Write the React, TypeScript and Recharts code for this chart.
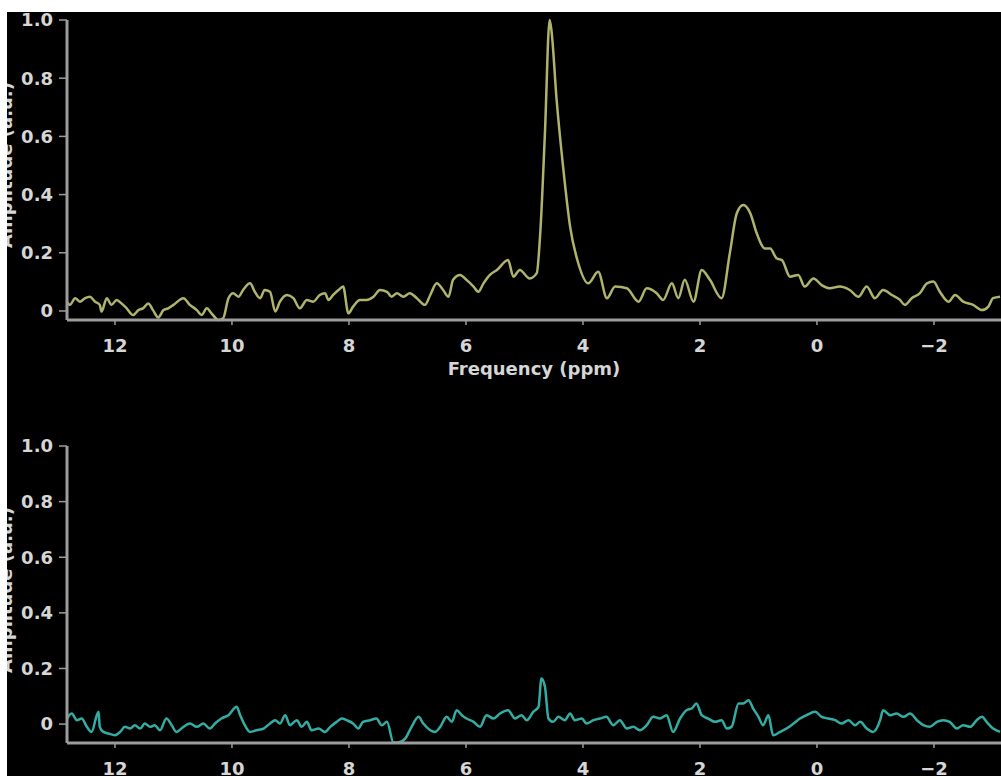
import React from "react";
import { LineChart, Line, XAxis, YAxis } from "recharts";

// frequency axis (ppm) and amplitude readings, left to right
const topPpm = [
  12.82, 12.77, 12.68, 12.6, 12.51, 12.43, 12.34, 12.26, 12.23, 12.14, 12.06,
  11.97, 11.89, 11.8, 11.69, 11.6, 11.52, 11.43, 11.35, 11.26, 11.17,
  11.09, 11.0, 10.83, 10.72, 10.6, 10.52, 10.43, 10.35, 10.23, 10.15,
  10.06, 9.98, 9.89, 9.81, 9.69, 9.61, 9.52, 9.44, 9.35, 9.26,
  9.18, 9.06, 8.95, 8.84, 8.72, 8.61, 8.5, 8.41, 8.35, 8.27,
  8.18, 8.1, 8.01, 7.93, 7.81, 7.7, 7.58, 7.47, 7.35, 7.27,
  7.18, 7.07, 6.96, 6.84, 6.7, 6.61, 6.5, 6.39, 6.3, 6.22,
  6.1, 5.99, 5.87, 5.79, 5.7, 5.59, 5.47, 5.28, 5.19, 5.08,
  4.91, 4.79, 4.73, 4.65, 4.57, 4.54, 4.45, 4.34, 4.22, 4.08,
  3.91, 3.74, 3.59, 3.45, 3.25, 3.05, 2.91, 2.74, 2.63, 2.48,
  2.37, 2.26, 2.11, 1.97, 1.83, 1.63, 1.49, 1.37, 1.26, 1.14,
  1.03, 0.89, 0.8, 0.69, 0.6, 0.46, 0.32, 0.21, 0.06, -0.08,
  -0.22, -0.39, -0.56, -0.71, -0.85, -0.99, -1.13, -1.28, -1.42, -1.5,
  -1.62, -1.76, -1.88, -1.99, -2.1, -2.25, -2.36, -2.5, -2.67, -2.82,
  -2.93, -3.01, -3.13,
];
const topAmp = [
  0.03, 0.021, 0.044, 0.032, 0.044, 0.049, 0.032, 0.021, -0.002, 0.044, 0.021,
  0.038, 0.026, 0.009, -0.014, 0.003, 0.009, 0.026, 0.003, -0.022, 0.003,
  0.009, 0.021, 0.044, 0.021, 0.003, -0.014, 0.009, -0.008, -0.031, -0.025,
  0.044, 0.061, 0.049, 0.072, 0.095, 0.066, 0.044, 0.072, 0.066, -0.002,
  0.032, 0.055, 0.044, 0.009, 0.038, 0.032, 0.055, 0.061, 0.038, 0.055,
  0.072, 0.084, -0.008, 0.015, 0.038, 0.038, 0.049, 0.072, 0.066, 0.049,
  0.061, 0.049, 0.061, 0.044, 0.021, 0.055, 0.095, 0.072, 0.049, 0.107,
  0.124, 0.107, 0.084, 0.066, 0.095, 0.124, 0.141, 0.175, 0.118, 0.141,
  0.112, 0.13, 0.268, 0.612, 1.0, 0.966, 0.725, 0.496, 0.29, 0.164,
  0.095, 0.135, 0.044, 0.084, 0.078, 0.032, 0.078, 0.061, 0.038, 0.095,
  0.044, 0.107, 0.032, 0.141, 0.107, 0.044, 0.198, 0.336, 0.364, 0.336,
  0.267, 0.215, 0.215, 0.181, 0.175, 0.118, 0.124, 0.084, 0.112, 0.089,
  0.078, 0.084, 0.072, 0.049, 0.084, 0.044, 0.072, 0.055, 0.038, 0.021,
  0.044, 0.061, 0.095, 0.101, 0.066, 0.032, 0.055, 0.032, 0.021, 0.003,
  0.015, 0.044, 0.049,
];

const bottomPpm = [
  12.82, 12.74, 12.65, 12.57, 12.48, 12.4, 12.31, 12.28, 12.26, 12.2,
  12.11, 12.0, 11.91, 11.83, 11.74, 11.66, 11.57, 11.49, 11.4, 11.32,
  11.23, 11.12, 11.03, 10.95, 10.83, 10.72, 10.6, 10.49, 10.38, 10.29,
  10.18, 10.06, 9.92, 9.86, 9.78, 9.69, 9.58, 9.46, 9.35, 9.26,
  9.18, 9.09, 9.01, 8.89, 8.81, 8.72, 8.64, 8.52, 8.41, 8.32,
  8.21, 8.12, 8.04, 7.93, 7.84, 7.76, 7.64, 7.53, 7.44, 7.35,
  7.24, 7.16, 7.04, 6.93, 6.81, 6.73, 6.61, 6.53, 6.44, 6.33,
  6.24, 6.16, 6.07, 5.99, 5.87, 5.76, 5.65, 5.53, 5.42, 5.28,
  5.16, 5.05, 4.96, 4.85, 4.76, 4.71, 4.65, 4.59, 4.51, 4.42,
  4.31, 4.22, 4.14, 4.02, 3.94, 3.82, 3.71, 3.6, 3.48, 3.37,
  3.25, 3.14, 3.03, 2.91, 2.8, 2.68, 2.57, 2.46, 2.34, 2.23,
  2.14, 2.06, 1.97, 1.86, 1.74, 1.63, 1.54, 1.46, 1.34, 1.26,
  1.17, 1.09, 1.0, 0.92, 0.83, 0.75, 0.63, 0.52, 0.4, 0.29,
  0.18, 0.03, -0.08, -0.19, -0.31, -0.42, -0.54, -0.65, -0.74, -0.85,
  -0.96, -1.08, -1.13, -1.25, -1.36, -1.48, -1.59, -1.71, -1.82, -1.93,
  -2.05, -2.16, -2.27, -2.39, -2.5, -2.62, -2.73, -2.82, -2.9, -3.01,
  -3.13,
];
const bottomAmp = [
  0.02, 0.038, 0.014, 0.02, -0.01, -0.028, 0.032, 0.044, -0.01, -0.028,
  -0.034, -0.04, -0.028, -0.01, -0.016, -0.004, -0.016, 0.002, -0.01, -0.004,
  -0.022, 0.02, -0.004, -0.028, -0.01, 0.002, -0.01, 0.002, -0.016, 0.002,
  0.02, 0.032, 0.062, 0.032, -0.004, -0.028, -0.022, -0.016, 0.002, 0.014,
  0.002, 0.032, -0.004, 0.014, -0.01, 0.008, -0.022, -0.016, -0.028, -0.01,
  0.008, 0.02, 0.014, 0.002, -0.016, 0.008, 0.014, 0.02, -0.004, 0.008,
  -0.066, -0.066, -0.052, -0.01, 0.026, 0.002, -0.022, -0.028, -0.01, 0.026,
  0.008, 0.05, 0.032, 0.02, 0.008, -0.01, 0.032, 0.02, 0.038, 0.05,
  0.02, 0.032, 0.014, 0.044, 0.062, 0.164, 0.134, 0.02, 0.008, 0.026,
  0.014, 0.038, 0.014, 0.02, 0.002, 0.014, 0.02, 0.026, -0.004, 0.014,
  -0.016, -0.01, -0.022, -0.004, 0.026, 0.02, 0.032, -0.028, 0.02, 0.05,
  0.056, 0.074, 0.032, 0.02, 0.008, 0.014, -0.016, -0.01, 0.074, 0.074,
  0.086, 0.056, 0.026, -0.004, 0.032, -0.04, -0.028, -0.016, 0.002, 0.02,
  0.032, 0.044, 0.026, 0.02, 0.014, 0.002, 0.014, -0.004, 0.008, -0.016,
  -0.028, 0.014, 0.05, 0.032, 0.038, 0.026, 0.038, 0.014, -0.004, -0.01,
  0.008, 0.014, 0.008, -0.016, -0.004, -0.01, 0.014, 0.026, 0.008, -0.016,
  -0.028,
];

const xTicks = [12, 10, 8, 6, 4, 2, 0, -2];
const yTicks = [0, 0.2, 0.4, 0.6, 0.8, 1.0];

const topData = topPpm.map((ppm, i) => ({ ppm, amp: topAmp[i] }));
const bottomData = bottomPpm.map((ppm, i) => ({ ppm, amp: bottomAmp[i] }));

const FONT = "'DejaVu Sans', sans-serif";
const TEXT = "#d6d6d6";
const AXIS = "#9c9c9c";

const tickStyle = { fill: TEXT, fontSize: 18, fontWeight: 700, fontFamily: FONT };

const fmtX = (v: number) => (v < 0 ? `\u2212${-v}` : `${v}`);
const fmtY = (v: number) => (v === 0 ? "0" : v.toFixed(1));

// axis title sits mostly outside the black frame, only its lower edge shows
const YLabel = ({ cy }: { cy: number }) => (
  <text
    x={12}
    y={cy}
    transform={`rotate(-90 12 ${cy})`}
    textAnchor="middle"
    fill={TEXT}
    fontSize={18}
    fontWeight={700}
    fontFamily={FONT}
  >
    Amplitude (a.u.)
  </text>
);

const XLabel = () => (
  <text x={534} y={375} textAnchor="middle" fill={TEXT} fontSize={18} fontWeight={700} fontFamily={FONT}>
    Frequency (ppm)
  </text>
);

type PanelProps = {
  data: { ppm: number; amp: number }[];
  height: number;
  top: number;
  xAxisHeight: number;
  yMin: number;
  color: string;
  labelY: number;
  showXLabel: boolean;
};

const Panel = ({ data, height, top, xAxisHeight, yMin, color, labelY, showXLabel }: PanelProps) => (
  <LineChart width={1001} height={height} data={data} margin={{ top, right: 0, left: 0, bottom: 0 }}>
    <XAxis
      type="number"
      dataKey="ppm"
      domain={[-3.146, 12.82]}
      reversed
      allowDataOverflow
      ticks={xTicks}
      tickFormatter={fmtX}
      height={xAxisHeight}
      tick={tickStyle}
      tickSize={5}
      tickMargin={14}
      tickLine={{ stroke: AXIS, strokeWidth: 1.5 }}
      axisLine={{ stroke: AXIS, strokeWidth: 3 }}
      label={showXLabel ? <XLabel /> : undefined}
    />
    <YAxis
      type="number"
      domain={[yMin, 1]}
      ticks={yTicks}
      tickFormatter={fmtY}
      width={67}
      tick={tickStyle}
      tickSize={8}
      tickMargin={6}
      tickLine={{ stroke: AXIS, strokeWidth: 1.5 }}
      axisLine={{ stroke: AXIS, strokeWidth: 3 }}
      label={<YLabel cy={labelY} />}
    />
    <Line
      type="monotone"
      dataKey="amp"
      stroke={color}
      strokeWidth={2.5}
      dot={false}
      isAnimationActive={false}
    />
  </LineChart>
);

export default function App() {
  return (
    <div style={{ position: "fixed", left: 0, top: 0, width: 1001, height: 776, background: "#fff" }}>
      <div
        style={{
          position: "absolute",
          left: 7,
          top: 12,
          width: 994,
          height: 764,
          background: "#000",
          overflow: "hidden",
        }}
      >
        <div style={{ position: "absolute", left: -7, top: -12 }}>
          <Panel
            data={topData}
            height={400}
            top={20}
            xAxisHeight={80}
            yMin={-0.031}
            color="#b0b36b"
            labelY={165}
            showXLabel
          />
        </div>
        <div style={{ position: "absolute", left: -7, top: 388 }}>
          <Panel
            data={bottomData}
            height={376}
            top={46}
            xAxisHeight={33}
            yMin={-0.068}
            color="#33ada4"
            labelY={190}
            showXLabel={false}
          />
        </div>
      </div>
    </div>
  );
}
